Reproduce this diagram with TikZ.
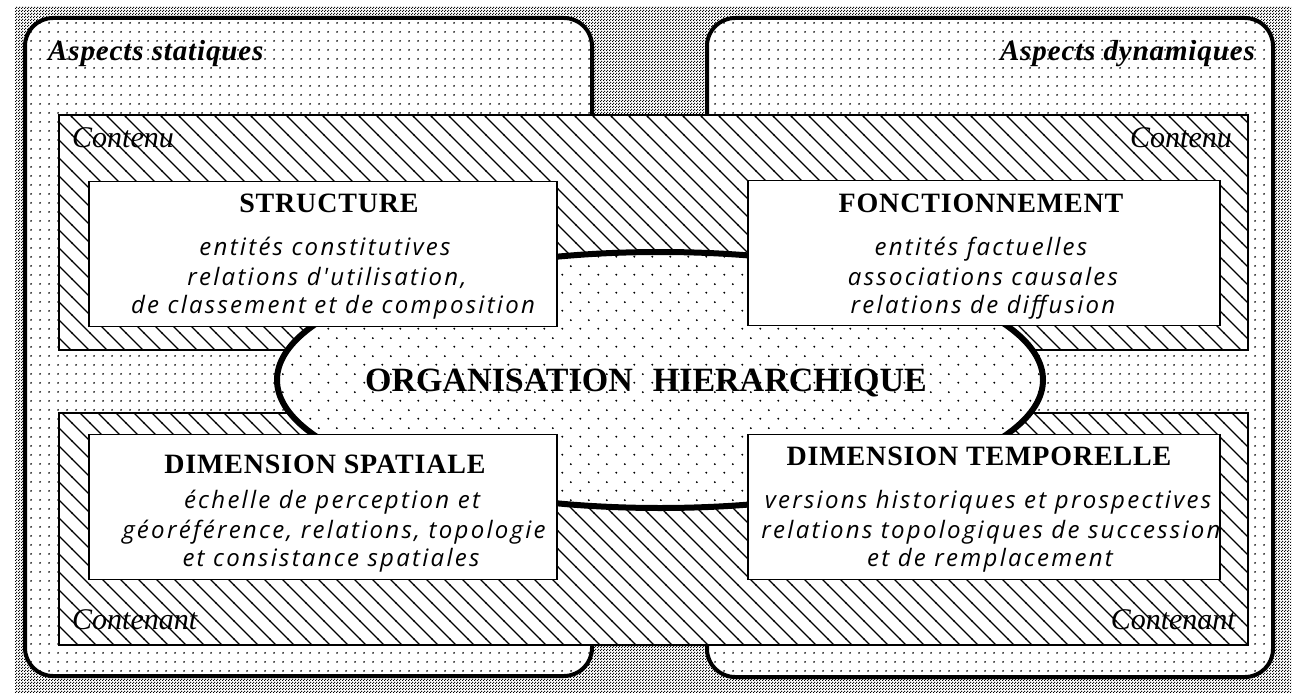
\documentclass[tikz,border=0pt]{standalone}
\usepackage{fontspec}
\setmainfont{Liberation Serif}
\newfontfamily\titlefont[LetterSpace=3]{Liberation Serif}
\newfontfamily\aspfont[LetterSpace=3]{Liberation Serif}
\newfontfamily\bodyfont[LetterSpace=9.5]{Open Sans}
\usetikzlibrary{patterns,shapes.geometric}
\pgfdeclarepatternformonly{bgdots}{\pgfqpoint{0pt}{0pt}}{\pgfqpoint{3pt}{3pt}}{\pgfqpoint{3pt}{3pt}}{%
  \pgfpathcircle{\pgfqpoint{0.75pt}{0.75pt}}{0.9pt}%
  \pgfpathcircle{\pgfqpoint{2.25pt}{2.25pt}}{0.9pt}%
  \pgfusepath{fill}}
\pgfdeclarepatternformonly{ldots}{\pgfqpoint{0pt}{0pt}}{\pgfqpoint{9pt}{9pt}}{\pgfqpoint{9pt}{9pt}}{%
  \pgfpathcircle{\pgfqpoint{4.5pt}{4.5pt}}{1.1pt}%
  \pgfusepath{fill}}
\pgfdeclarepatternformonly{edots}{\pgfqpoint{0pt}{0pt}}{\pgfqpoint{18pt}{18pt}}{\pgfqpoint{18pt}{18pt}}{%
  \pgfpathcircle{\pgfqpoint{4.5pt}{4.5pt}}{1.1pt}%
  \pgfpathcircle{\pgfqpoint{13.5pt}{13.5pt}}{1.1pt}%
  \pgfusepath{fill}}
\pgfdeclarepatternformonly{hatchnw}{\pgfqpoint{-1pt}{-1pt}}{\pgfqpoint{19pt}{19pt}}{\pgfqpoint{18pt}{18pt}}{%
  \pgfsetlinewidth{1.3pt}%
  \pgfpathmoveto{\pgfqpoint{-0.5pt}{18.5pt}}%
  \pgfpathlineto{\pgfqpoint{18.5pt}{-0.5pt}}%
  \pgfusepath{stroke}}
\tikzset{
  aspect/.style={line width=4pt, rounded corners=28pt, preaction={fill=white}, pattern=ldots},
  band/.style={line width=1.5pt, preaction={fill=white}, pattern=hatchnw},
  wbox/.style={draw, line width=1.6pt, fill=white, rectangle, inner sep=0pt, minimum height=145pt},
  ttl/.style={font=\titlefont\bfseries\fontsize{28}{30}\selectfont, inner sep=0pt, anchor=base},
  bdy/.style={font=\bodyfont\itshape\fontsize{24}{28}\selectfont, inner sep=0pt, anchor=base},
  asp/.style={font=\aspfont\bfseries\itshape\fontsize{29}{31}\selectfont, inner sep=0pt},
  cnt/.style={font=\itshape\fontsize{30}{32}\selectfont, inner sep=0pt},
  org/.style={font=\bfseries\fontsize{34}{36}\selectfont, inner sep=0pt, anchor=base}
}
\begin{document}
\begin{tikzpicture}[x=1pt,y=-1pt]
\useasboundingbox (0,0) rectangle (1296,693);
\fill[white] (0,0) rectangle (1296,693);
% background
\path[preaction={fill=white}, pattern=bgdots] (15,7) rectangle (1291,693);
% static / dynamic areas
\draw[aspect] (25,18) rectangle (592,676);
\draw[aspect] (707,18) rectangle (1273,677);
% content / container bands
\draw[band] (59,115) rectangle (1248,350);
\draw[band] (59,413) rectangle (1248,645);
% hierarchical organisation
\node[ellipse, draw, line width=6pt, preaction={fill=white}, pattern=edots,
      minimum width=766pt, minimum height=256pt, inner sep=0pt] (orgell) at (660,380) {};
% boxes
\node[wbox, minimum width=468pt] (structure) at (323,254) {};
\node[wbox, minimum width=472pt] (fonct) at (984,253) {};
\node[wbox, minimum width=468pt] (spatial) at (323,507) {};
\node[wbox, minimum width=472pt] (temporel) at (984,507) {};
% labels
\node[asp, anchor=base west] (lstat) at (48,61) {Aspects statiques};
\node[asp, anchor=base east] (ldyn) at (1255,61) {Aspects dynamiques};
\node[cnt, anchor=base west] (lcontenu1) at (72,147) {Contenu};
\node[cnt, anchor=base east] (lcontenu2) at (1232,147) {Contenu};
\node[cnt, anchor=base west] (lcontenant1) at (72,629) {Contenant};
\node[cnt, anchor=base east] (lcontenant2) at (1236,629) {Contenant};
% structure
\node[ttl] (t1) at (329,212) {STRUCTURE};
\node[bdy] (s1) at (325,255) {entités constitutives};
\node[bdy] (s2) at (327,285) {relations d'utilisation,};
\node[bdy] (s3) at (333,313) {de classement et de composition};
% fonctionnement
\node[ttl] (t2) at (981,212) {FONCTIONNEMENT};
\node[bdy] (f1) at (981,255) {entités factuelles};
\node[bdy] (f2) at (983,285) {associations causales};
\node[bdy] (f3) at (983,313) {relations de diffusion};
% spatial
\node[ttl] (t3) at (325,473) {DIMENSION SPATIALE};
\node[bdy] (d1) at (332,508) {échelle de perception et};
\node[bdy] (d2) at (334,538) {géoréférence, relations, topologie};
\node[bdy] (d3) at (331,566) {et consistance spatiales};
% temporel
\node[ttl] (t4) at (979,465) {DIMENSION TEMPORELLE};
\node[bdy] (e1) at (988,508) {versions historiques et prospectives};
\node[bdy] (e2) at (991,538) {relations topologiques de succession};
\node[bdy] (e3) at (990,566) {et de remplacement};
% centre
\node[org] (orgtxt) at (646,391) {ORGANISATION\hspace{20pt}HIERARCHIQUE};
\end{tikzpicture}
\end{document}
